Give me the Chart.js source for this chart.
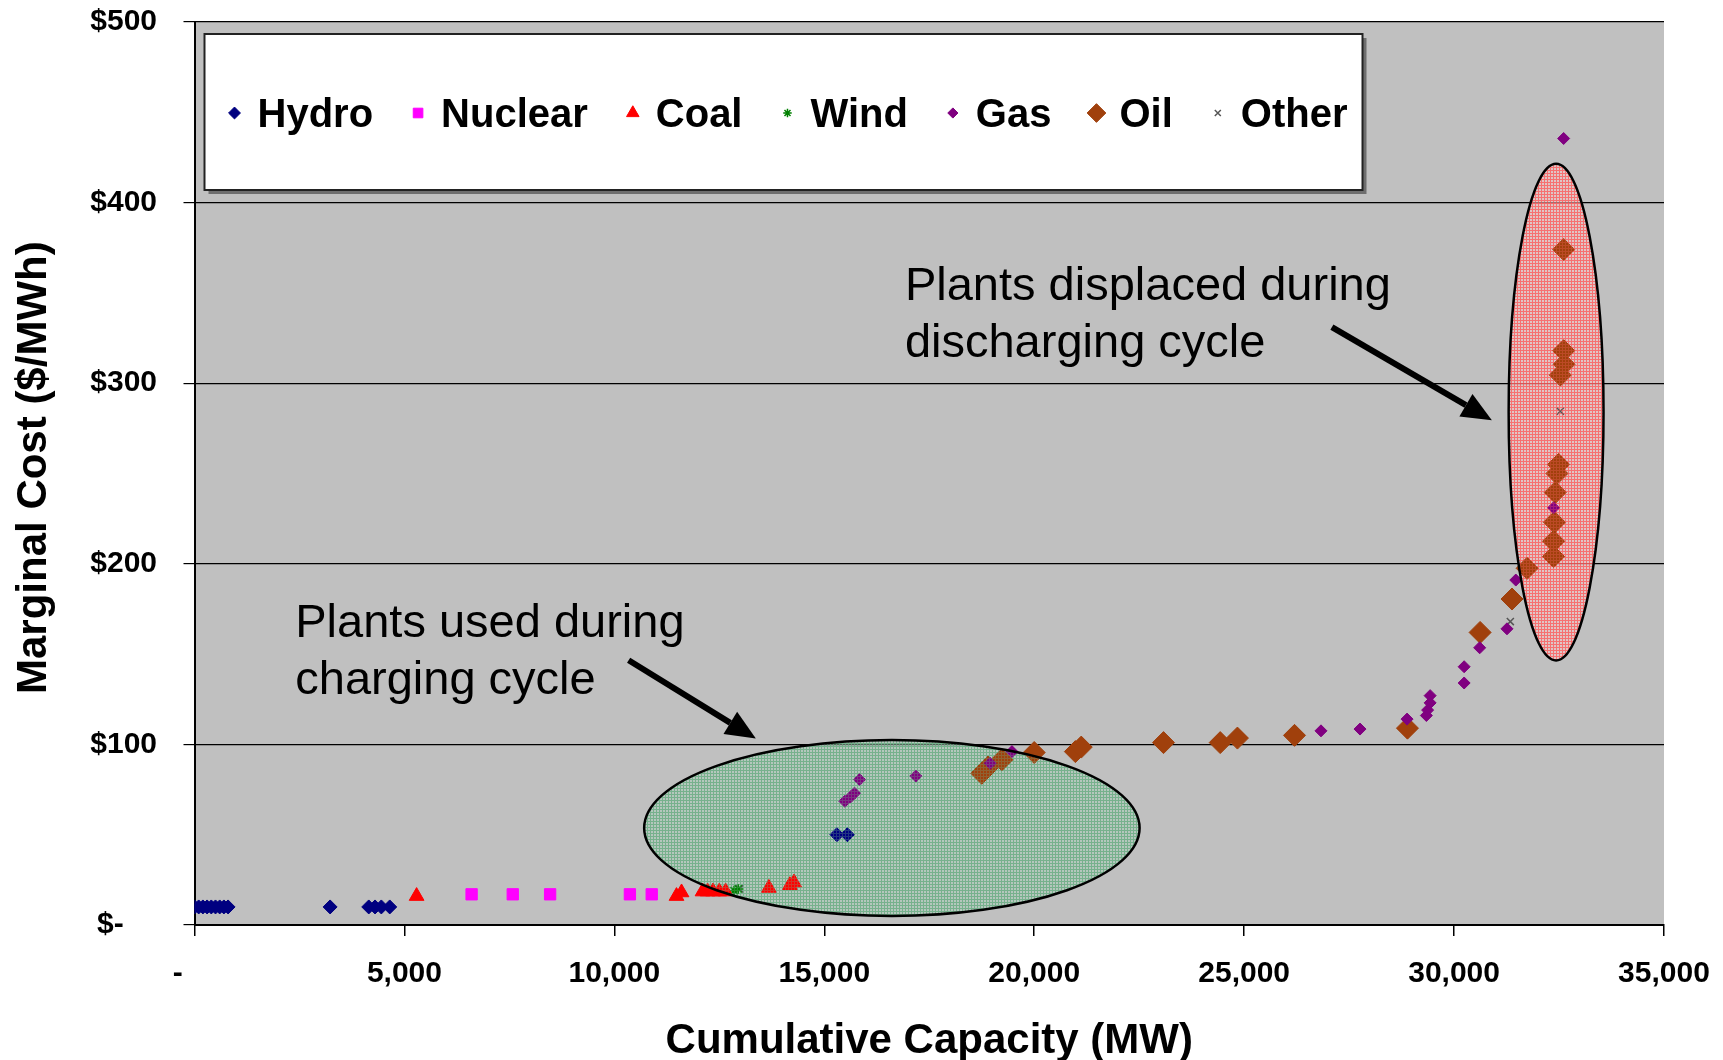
<!DOCTYPE html>
<html>
<head>
<meta charset="utf-8">
<title>Marginal Cost vs Cumulative Capacity</title>
<script src="https://cdn.jsdelivr.net/npm/chart.js@4.4.1/dist/chart.umd.min.js"></script>
<style>
  html, body { margin: 0; padding: 0; background: #fff; }
  #wrap { width: 1723px; height: 1060px; }
</style>
</head>
<body>
<div id="wrap"><canvas id="supplyChart" width="1723" height="1060"></canvas></div>
<script>
// Cumulative capacity (MW) and marginal cost ($/MWh) of each plant, by fuel
const hydroMW   = [0, 100, 200, 300, 400, 500, 600, 700, 800, 3230, 4150, 4300, 4450, 4650, 15300, 15550];
const hydroCost = [10, 10, 10, 10, 10, 10, 10, 10, 10, 10, 10, 10, 10, 10, 50, 50];

const nuclearMW   = [6600, 7580, 8470, 10370, 10890];
const nuclearCost = [17, 17, 17, 17, 17];

const coalMW   = [5290, 11480, 11600, 12100, 12220, 12350, 12500, 12650, 13680, 14180, 14280];
const coalCost = [16, 16, 18, 18.5, 18.5, 18.5, 18.5, 18.5, 20.5, 22, 23.5];

const windMW   = [12850, 12950];
const windCost = [19, 20];

const gasMW   = [15490, 15630, 15720, 15840, 17180, 18950, 19470, 26830, 27760, 28880, 29340,
                 29370, 29430, 29430, 30240, 30240, 30610, 31260, 31470, 32370, 32610];
const gasCost = [68.5, 71, 73, 80.5, 82.5, 89.5, 96, 107.5, 108.5, 114, 116,
                 119, 123, 127, 134, 143, 153.5, 164, 191, 231, 435.5];

const oilMW   = [18750, 18900, 19230, 20000, 20980, 21120, 23080, 24430, 24840, 26200, 28890,
                 30620, 31380, 31740, 32370, 32370, 32390, 32410, 32450, 32490, 32530, 32620, 32610, 32610];
const oilCost = [84, 87.5, 91.5, 95.5, 96, 98.5, 101, 101, 103.5, 105, 109,
                 162, 180.5, 197.5, 204, 212.5, 223, 239.5, 250, 255, 304.5, 310.5, 318, 374];

const otherMW   = [12980, 31340, 32530];
const otherCost = [20, 168, 284.5];

// axis ranges
const capacityRange = [0, 35000];
const costRange = [0, 500];

// call-outs: ellipses [centreMW, centreCost, radiusMW, radiusCost], arrows [fromMW, fromCost, toMW, toCost]
const chargeEllipse = [16610, 53.7, 5900, 48.7];
const dischargeEllipse = [32430, 284, 1130, 137.5];
const chargeArrow = [10340, 146.6, 13370, 103.2];
const dischargeArrow = [27090, 331, 30900, 279.5];
const chargeText = [2400, 159.6, 'Plants used during', 'charging cycle'];
const dischargeText = [16920, 346, 'Plants displaced during', 'discharging cycle'];

const FONT = "Arial, 'Liberation Sans', sans-serif";

function pts(xs, ys) {
    return xs.map((x, i) => ({ x: x, y: ys[i] }));
}

function withCommas(v) {
    return String(v).replace(/\B(?=(\d{3})+(?!\d))/g, ',');
}

// fine dotted fill like the old office "dotted grid" pattern
function gridPattern(ctx, cell, line) {
    const tile = document.createElement('canvas');
    tile.width = 3;
    tile.height = 3;
    const t = tile.getContext('2d');
    if (cell) {
        t.fillStyle = cell;
        t.fillRect(0, 0, 2, 2);
    }
    t.fillStyle = line;
    t.fillRect(2, 0, 1, 3);
    t.fillRect(0, 2, 2, 1);
    return ctx.createPattern(tile, 'repeat');
}

function drawArrow(ctx, x1, y1, x2, y2) {
    const ang = Math.atan2(y2 - y1, x2 - x1);
    const head = 30, half = 13;
    const bx = x2 - head * Math.cos(ang);
    const by = y2 - head * Math.sin(ang);
    ctx.strokeStyle = '#000';
    ctx.fillStyle = '#000';
    ctx.lineWidth = 6;
    ctx.beginPath();
    ctx.moveTo(x1, y1);
    ctx.lineTo(bx, by);
    ctx.stroke();
    ctx.beginPath();
    ctx.moveTo(x2, y2);
    ctx.lineTo(bx + half * Math.sin(ang), by - half * Math.cos(ang));
    ctx.lineTo(bx - half * Math.sin(ang), by + half * Math.cos(ang));
    ctx.closePath();
    ctx.fill();
}

function ellipsePath(chart, e) {
    const xs = chart.scales.x, ys = chart.scales.y;
    const cx = xs.getPixelForValue(e[0]);
    const cy = ys.getPixelForValue(e[1]);
    const rx = xs.getPixelForValue(e[0] + e[2]) - cx;
    const ry = cy - ys.getPixelForValue(e[1] + e[3]);
    chart.ctx.beginPath();
    chart.ctx.ellipse(cx, cy, rx, ry, 0, 0, Math.PI * 2);
}

const plotBackground = {
    id: 'plotBackground',
    beforeDraw(chart) {
        const { ctx, chartArea: a } = chart;
        ctx.save();
        ctx.fillStyle = '#c0c0c0';
        ctx.fillRect(a.left, a.top, a.right - a.left, a.bottom - a.top);
        ctx.restore();
    }
};

// shaded ellipses go under the markers, a light tint and the outline over them
const callouts = {
    id: 'callouts',
    beforeDatasetsDraw(chart) {
        const { ctx } = chart;
        ctx.save();
        ellipsePath(chart, chargeEllipse);
        ctx.fillStyle = gridPattern(ctx, 'rgba(170, 205, 185, 0.5)', 'rgba(110, 175, 135, 0.85)');
        ctx.fill();
        ellipsePath(chart, dischargeEllipse);
        ctx.fillStyle = gridPattern(ctx, 'rgba(245, 200, 200, 0.6)', 'rgba(255, 100, 100, 0.8)');
        ctx.fill();
        ctx.restore();
    },
    afterDatasetsDraw(chart) {
        const { ctx } = chart;
        const xs = chart.scales.x, ys = chart.scales.y;

        function outline(e, tint) {
            ellipsePath(chart, e);
            ctx.fillStyle = gridPattern(ctx, null, tint);
            ctx.fill();
            ctx.lineWidth = 2.5;
            ctx.strokeStyle = '#000';
            ctx.stroke();
        }

        function arrow(a) {
            drawArrow(ctx, xs.getPixelForValue(a[0]), ys.getPixelForValue(a[1]),
                xs.getPixelForValue(a[2]), ys.getPixelForValue(a[3]));
        }

        function label(t) {
            const x = xs.getPixelForValue(t[0]);
            const y = ys.getPixelForValue(t[1]);
            ctx.font = '47px ' + FONT;
            ctx.fillStyle = '#000';
            ctx.textAlign = 'left';
            ctx.textBaseline = 'alphabetic';
            ctx.fillText(t[2], x, y);
            ctx.fillText(t[3], x, y + 57);
        }

        ctx.save();
        outline(chargeEllipse, 'rgba(110, 175, 135, 0.3)');
        outline(dischargeEllipse, 'rgba(255, 100, 100, 0.3)');
        arrow(chargeArrow);
        arrow(dischargeArrow);
        label(chargeText);
        label(dischargeText);
        ctx.restore();
    }
};

// boxed legend with drop shadow inside the plot area
const boxLegend = {
    id: 'boxLegend',
    afterDraw(chart) {
        const { ctx, chartArea: a } = chart;
        const left = a.left + 10, top = a.top + 12, w = 1158, h = 156;
        ctx.save();
        ctx.fillStyle = '#6e6e6e';
        ctx.fillRect(left + 4, top + 4, w, h);
        ctx.fillStyle = '#fff';
        ctx.fillRect(left, top, w, h);
        ctx.strokeStyle = '#222';
        ctx.lineWidth = 2;
        ctx.strokeRect(left, top, w, h);

        ctx.font = 'bold 40px ' + FONT;
        ctx.textAlign = 'left';
        ctx.textBaseline = 'alphabetic';
        let x = left + 30;
        const cy = top + 79;
        chart.data.datasets.forEach(ds => {
            ctx.fillStyle = ds.backgroundColor;
            ctx.strokeStyle = ds.borderColor;
            ctx.lineWidth = ds.borderWidth;
            Chart.helpers.drawPoint(ctx, {
                pointStyle: ds.pointStyle,
                radius: ds.pointRadius * 0.85,
                rotation: 0,
                borderWidth: ds.borderWidth
            }, x, cy);
            ctx.fillStyle = '#000';
            ctx.fillText(ds.label, x + 23, cy + 14);
            x += 23 + ctx.measureText(ds.label).width + 45;
        });
        ctx.restore();
    }
};

function series(label, xs, ys, style, radius, fill, stroke, bw) {
    return {
        label: label,
        data: pts(xs, ys),
        pointStyle: style,
        pointRadius: radius,
        backgroundColor: fill,
        borderColor: stroke,
        borderWidth: bw
    };
}

const datasets = [
    series('Hydro', hydroMW, hydroCost, 'rectRot', 7, '#000080', '#000080', 1),
    series('Nuclear', nuclearMW, nuclearCost, 'rect', 8, '#ff00ff', '#ff00ff', 1),
    series('Coal', coalMW, coalCost, 'triangle', 8.5, '#ff0000', '#ff0000', 1),
    series('Wind', windMW, windCost, 'star', 5, '#008000', '#008000', 1.5),
    series('Gas', gasMW, gasCost, 'rectRot', 6, '#800080', '#800080', 1),
    series('Oil', oilMW, oilCost, 'rectRot', 11, '#a0400c', '#a0400c', 1),
    series('Other', otherMW, otherCost, 'crossRot', 5, '#555555', '#555555', 1.5)
];

const tickFont = { family: FONT, size: 30, weight: 'bold' };

new Chart(document.getElementById('supplyChart'), {
    type: 'scatter',
    data: { datasets: datasets },
    options: {
        responsive: false,
        animation: false,
        devicePixelRatio: 1,
        events: [],
        layout: { padding: { top: 22, right: 59, left: 0, bottom: 0 } },
        plugins: {
            legend: { display: false },
            tooltip: { enabled: false }
        },
        scales: {
            x: {
                type: 'linear',
                min: capacityRange[0],
                max: capacityRange[1],
                afterFit(scale) {
                    scale.height = 135;
                    scale.paddingLeft = 0;
                    scale.paddingRight = 0;
                },
                grid: { drawOnChartArea: false, drawTicks: true, tickLength: 11, color: '#000', lineWidth: 1.5 },
                border: { display: true, color: '#000', width: 2 },
                ticks: {
                    stepSize: 5000,
                    padding: 20,
                    autoSkip: false,
                    maxRotation: 0,
                    color: '#000',
                    font: tickFont,
                    callback: v => v === 0 ? '-    ' : withCommas(v)
                },
                title: {
                    display: true,
                    text: 'Cumulative Capacity (MW)',
                    color: '#000',
                    font: { family: FONT, size: 42, weight: 'bold', lineHeight: 0.9 },
                    padding: { top: 0, bottom: 0 }
                }
            },
            y: {
                type: 'linear',
                min: costRange[0],
                max: costRange[1],
                afterFit(scale) {
                    scale.width = 194.5;
                    scale.paddingTop = 0;
                    scale.paddingBottom = 0;
                },
                grid: { drawOnChartArea: true, drawTicks: true, tickLength: 11, color: '#000', lineWidth: 1.2 },
                border: { display: true, color: '#000', width: 2 },
                ticks: {
                    stepSize: 100,
                    padding: 26.5,
                    color: '#000',
                    font: tickFont,
                    callback: v => v === 0 ? '$-    ' : '$' + v
                },
                title: {
                    display: true,
                    text: ' Marginal Cost ($/MWh)',
                    color: '#000',
                    font: { family: FONT, size: 42, weight: 'bold', lineHeight: 1 },
                    padding: { top: 13, bottom: 0 }
                }
            }
        }
    },
    plugins: [plotBackground, callouts, boxLegend]
});
</script>
</body>
</html>
